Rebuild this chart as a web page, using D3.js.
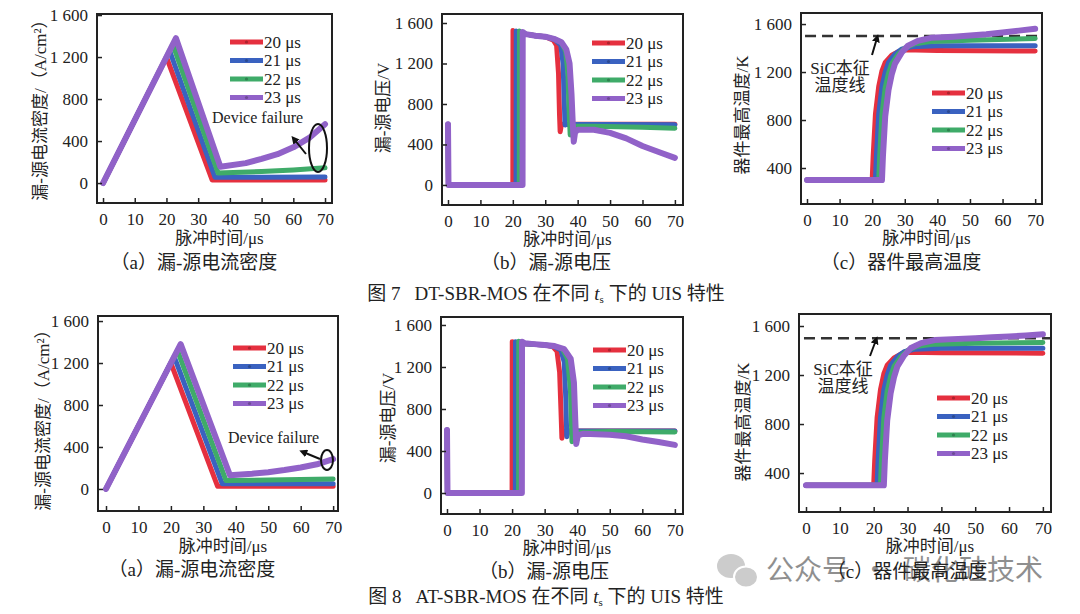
<!DOCTYPE html>
<html>
  <head>
    <meta charset="utf-8" />
    <title>DT/AT-SBR-MOS UIS curves</title>
    <script src="https://cdn.jsdelivr.net/npm/d3@7"></script>
    <style>
      body { margin: 0; background: #fff; }
      svg text { font-family: "Liberation Serif", "Times New Roman", "Noto Sans CJK SC", serif; fill: #222; }
    </style>
  </head>
  <body>
    <svg id="svg" width="1080" height="614" xmlns="http://www.w3.org/2000/svg"></svg>
    <script>
      // ---- data ----
      const xTicks = [0, 10, 20, 30, 40, 50, 60, 70];
      const yTicksIV = [0, 400, 800, 1200, 1600];
      const yTicksT = [400, 800, 1200, 1600];
      const seriesNames = ["20 μs", "21 μs", "22 μs", "23 μs"];
      const seriesColors = ["#e5303f", "#3a62c0", "#3fab69", "#9162c8"];
      const sicLimit = 1500;

      // Fig 7 (DT-SBR-MOS): drain-source current density, A/cm2
      const fig7J20 = [[0,0],[20,1200],[34.4,30],[50,30],[70,30]];
      const fig7J21 = [[0,0],[21,1260],[35.3,55],[50,55],[70,58]];
      const fig7J22 = [[0,0],[22,1320],[36.3,95],[50,110],[60,125],[70,145]];
      const fig7J23 = [[0,0],[23,1380],[37,155],[45,190],[50,230],[55,275],[60,340],[65,430],[70,560]];

      // Fig 7: drain-source voltage, V
      const fig7V20 = [[0,600],[0.15,0],[20,0],[20.05,1525],[21,1500],[24,1490],[27,1475],[30,1465],[32.5,1430],[33.5,1380],[34.1,1100],[34.4,700],[34.6,526],[35,600],[50,600],[70,600]];
      const fig7V21 = [[0,600],[0.15,0],[21,0],[21.05,1520],[22,1500],[24,1490],[27,1475],[30,1465],[33,1435],[34.8,1380],[35.5,1200],[35.9,800],[36.1,592],[36.5,600],[50,598],[70,595]];
      const fig7V22 = [[0,600],[0.15,0],[22,0],[22.05,1520],[23,1495],[27,1475],[30,1465],[33,1440],[35,1405],[36.3,1320],[37,1100],[37.4,700],[37.7,494],[38.1,580],[45,580],[60,570],[70,560]];
      const fig7V23 = [[0,600],[0.15,0],[23,0],[23.05,1510],[24,1490],[27,1475],[30,1465],[33,1440],[35,1410],[36.5,1340],[37.5,1200],[38.1,900],[38.5,600],[38.8,428],[39.2,520],[40,545],[45,545],[50,515],[55,460],[60,385],[65,325],[70,268]];

      // Fig 7: device peak temperature, K
      const fig7T20 = [[0,300],[20,300],[20.3,500],[21,850],[22,1080],[23,1210],[24,1280],[26,1340],[28,1370],[30,1385],[40,1380],[70,1375]];
      const fig7T21 = [[0,300],[21,300],[21.3,500],[22,850],[23,1080],[24,1200],[25,1280],[27,1350],[29,1390],[32,1410],[40,1420],[70,1420]];
      const fig7T22 = [[0,300],[22,300],[22.3,500],[23,850],[24,1070],[25,1190],[26,1270],[28,1350],[30,1400],[33,1435],[38,1455],[50,1465],[70,1480]];
      const fig7T23 = [[0,300],[23,300],[23.3,500],[24,830],[25,1050],[26,1180],[27,1270],[29,1360],[31,1420],[34,1460],[38,1485],[45,1495],[50,1505],[55,1515],[60,1530],[65,1545],[70,1560]];

      // Fig 8 (AT-SBR-MOS): current density
      const fig8J20 = [[0,0],[20,1200],[34.4,25],[50,25],[70,25]];
      const fig8J21 = [[0,0],[21,1260],[35.8,50],[50,50],[70,50]];
      const fig8J22 = [[0,0],[22,1320],[37,80],[50,85],[70,95]];
      const fig8J23 = [[0,0],[23,1380],[38.2,130],[45,145],[50,160],[55,180],[60,205],[65,235],[70,285]];

      // Fig 8: voltage
      const fig8V20 = [[0,600],[0.15,0],[20,0],[20.05,1440],[21,1425],[25,1420],[30,1410],[32.5,1395],[33.8,1350],[34.6,1150],[35,800],[35.3,521],[35.7,590],[50,590],[70,590]];
      const fig8V21 = [[0,600],[0.15,0],[21,0],[21.05,1440],[22,1425],[25,1420],[30,1410],[33,1395],[35,1360],[36,1250],[36.5,900],[36.8,536],[37.2,590],[50,590],[70,590]];
      const fig8V22 = [[0,600],[0.15,0],[22,0],[22.05,1445],[23,1425],[25,1420],[30,1410],[33,1400],[35.5,1370],[37,1280],[37.9,1000],[38.2,700],[38.4,489],[38.8,575],[50,585],[70,580]];
      const fig8V23 = [[0,600],[0.15,0],[23,0],[23.05,1440],[24,1425],[26,1420],[30,1410],[33,1400],[36,1370],[38,1280],[39,1050],[39.4,700],[39.7,467],[40.2,550],[42,565],[50,555],[55,540],[60,510],[65,485],[70,458]];

      // Fig 8: temperature
      const fig8T20 = [[0,300],[20,300],[20.3,500],[21,850],[22,1080],[23,1210],[24,1280],[26,1340],[28,1370],[30,1385],[40,1382],[70,1378]];
      const fig8T21 = [[0,300],[21,300],[21.3,500],[22,850],[23,1080],[24,1200],[25,1280],[27,1350],[29,1390],[32,1410],[40,1418],[70,1418]];
      const fig8T22 = [[0,300],[22,300],[22.3,500],[23,850],[24,1070],[25,1190],[26,1270],[28,1350],[30,1400],[33,1435],[38,1452],[50,1460],[70,1465]];
      const fig8T23 = [[0,300],[23,300],[23.3,500],[24,830],[25,1050],[26,1180],[27,1270],[29,1360],[31,1420],[34,1460],[38,1485],[45,1495],[50,1500],[55,1508],[60,1515],[65,1522],[70,1532]];

      // ---- layout of the six panels ----
      const panels = [
        { box: [97, 14, 332, 203], xDom: [-1.9, 72.2], yDom: [-190, 1610], yTicks: yTicksIV,
          series: [fig7J20, fig7J21, fig7J22, fig7J23], yTitle: "漏-源电流密度/（A/cm²）", yTitlePos: [40, 106],
          xTitleY: 244, legend: [230, 42], failure: { text: [212, 123], ell: [318, 148, 9, 24], arrow: [306, 154, 294, 139] } },
        { box: [442, 14, 683, 205], xDom: [-1.85, 72.5], yDom: [-198, 1689], yTicks: yTicksIV,
          series: [fig7V20, fig7V21, fig7V22, fig7V23], yTitle: "漏-源电压/V", yTitlePos: [383, 108],
          xTitleY: 245, legend: [592, 43] },
        { box: [801, 13, 1042, 204], xDom: [-1.84, 72.1], yDom: [100, 1692], yTicks: yTicksT,
          series: [fig7T20, fig7T21, fig7T22, fig7T23], yTitle: "器件最高温度/K", yTitlePos: [742, 115],
          xTitleY: 244, legend: [932, 93], sic: { text: [840, 74], arrow: [872, 55, 877, 38] } },
        { box: [98, 316, 338, 511], xDom: [-2.47, 71.5], yDom: [-210, 1648], yTicks: yTicksIV,
          series: [fig8J20, fig8J21, fig8J22, fig8J23], yTitle: "漏-源电流密度/（A/cm²）", yTitlePos: [43, 416],
          xTitleY: 552, legend: [233, 348], failure: { text: [228, 443], ell: [327, 460, 6, 10], arrow: [320, 459, 303, 452] } },
        { box: [441, 317, 683, 514], xDom: [-1.84, 72.5], yDom: [-200, 1676], yTicks: yTicksIV,
          series: [fig8V20, fig8V21, fig8V22, fig8V23], yTitle: "漏-源电压/V", yTitlePos: [388, 418],
          xTitleY: 554, legend: [593, 350] },
        { box: [799, 314, 1051, 512], xDom: [-2.07, 72.4], yDom: [82, 1698], yTicks: yTicksT,
          series: [fig8T20, fig8T21, fig8T22, fig8T23], yTitle: "器件最高温度/K", yTitlePos: [743, 422],
          xTitleY: 552, legend: [937, 398], sic: { text: [843, 375], arrow: [870, 356, 876, 340] } }
      ];

      const captions = [
        { text: "（a）漏-源电流密度", x: 194, y: 269 },
        { text: "（b）漏-源电压", x: 546, y: 269 },
        { text: "（c）器件最高温度", x: 901, y: 269 },
        { text: "（a）漏-源电流密度", x: 192, y: 576 },
        { text: "（b）漏-源电压", x: 544, y: 578 },
        { text: "（c）器件最高温度", x: 907, y: 578 }
      ];
      const figTitles = [
        { num: "图 7", dev: "DT-SBR-MOS", y: 300 },
        { num: "图 8", dev: "AT-SBR-MOS", y: 603 }
      ];

      let svg = d3.select("svg");

      svg.append("defs").append("marker")
        .attr("id", "arrow")
        .attr("viewBox", "0 0 10 10")
        .attr("refX", 5).attr("refY", 5)
        .attr("markerWidth", 4).attr("markerHeight", 4)
        .attr("orient", "auto")
        .append("path")
        .attr("d", "M0,0L10,5L0,10z")
        .attr("fill", "#111");

      // Formats 1600 as "1 600" like the paper
      function fmtTick(v) {
        return v >= 1000 ? Math.floor(v / 1000) + " " + String(v % 1000).padStart(3, "0") : String(v);
      }

      panels.forEach((p, i) => draw(p, i));

      function draw(p, i) {
        let [x0, y0, x1, y1] = p.box;
        let x = d3.scaleLinear().domain(p.xDom).range([x0, x1]);
        let y = d3.scaleLinear().domain(p.yDom).range([y1, y0]);
        let g = svg.append("g");

        g.append("clipPath").attr("id", "clip" + i)
          .append("rect").attr("x", x0).attr("y", y0).attr("width", x1 - x0).attr("height", y1 - y0);

        // SiC intrinsic temperature line
        if (p.sic) {
          g.append("line")
            .attr("x1", x(-0.6)).attr("x2", x1)
            .attr("y1", y(sicLimit)).attr("y2", y(sicLimit))
            .attr("stroke", "#333").attr("stroke-width", 2.5)
            .attr("stroke-dasharray", "11,6");
        }

        // Curves
        let line = d3.line().x((d) => x(d[0])).y((d) => y(d[1]));
        let plot = g.append("g").attr("clip-path", "url(#clip" + i + ")");
        p.series.forEach((s, k) => {
          plot.append("path")
            .attr("d", line(s))
            .attr("fill", "none")
            .attr("stroke", seriesColors[k])
            .attr("stroke-width", k === 3 ? 6 : 5)
            .attr("stroke-linejoin", "round")
            .attr("stroke-linecap", "round");
        });

        // Axes with inward ticks
        let xAxis = d3.axisBottom(x).tickValues(xTicks).tickSizeInner(-5).tickSizeOuter(0).tickPadding(10).tickFormat((d) => d);
        let yAxis = d3.axisLeft(y).tickValues(p.yTicks).tickSizeInner(-5).tickSizeOuter(0).tickPadding(9).tickFormat(fmtTick);
        let gx = g.append("g").attr("transform", "translate(0," + y1 + ")").call(xAxis);
        let gy = g.append("g").attr("transform", "translate(" + x0 + ",0)").call(yAxis);
        [gx, gy].forEach((a) => {
          a.attr("font-family", "Liberation Serif").attr("font-size", 17);
          a.select(".domain").remove();
          a.selectAll("line").attr("stroke", "#222").attr("stroke-width", 1.5);
          a.selectAll("text").attr("fill", "#222");
        });

        // Frame
        g.append("rect")
          .attr("x", x0).attr("y", y0).attr("width", x1 - x0).attr("height", y1 - y0)
          .attr("fill", "none").attr("stroke", "#222").attr("stroke-width", 2);

        // Axis titles
        g.append("text")
          .attr("x", (x0 + x1) / 2 + 5).attr("y", p.xTitleY)
          .attr("text-anchor", "middle").attr("font-size", 17)
          .text("脉冲时间/μs");
        g.append("text")
          .attr("transform", "translate(" + p.yTitlePos[0] + "," + p.yTitlePos[1] + ") rotate(-90)")
          .attr("text-anchor", "middle").attr("dominant-baseline", "central")
          .attr("font-size", 17)
          .text(p.yTitle);

        // Legend
        let lg = g.append("g").attr("transform", "translate(" + p.legend[0] + "," + p.legend[1] + ")");
        seriesNames.forEach((name, k) => {
          let row = lg.append("g").attr("transform", "translate(0," + k * 18.5 + ")");
          row.append("line").attr("x1", 0).attr("x2", 33).attr("y1", 0).attr("y2", 0)
            .attr("stroke", seriesColors[k]).attr("stroke-width", 5);
          row.append("circle").attr("cx", 16.5).attr("cy", 0).attr("r", 1.6)
            .attr("fill", d3.color(seriesColors[k]).darker(0.8));
          row.append("text").attr("x", 34).attr("y", 0).attr("dy", "0.35em")
            .attr("font-size", 17).text(name);
        });

        // Device failure note
        if (p.failure) {
          let f = p.failure;
          g.append("text").attr("x", f.text[0]).attr("y", f.text[1])
            .attr("font-size", 16).text("Device failure");
          g.append("ellipse")
            .attr("cx", f.ell[0]).attr("cy", f.ell[1]).attr("rx", f.ell[2]).attr("ry", f.ell[3])
            .attr("fill", "none").attr("stroke", "#111").attr("stroke-width", 2);
          g.append("line")
            .attr("x1", f.arrow[0]).attr("y1", f.arrow[1]).attr("x2", f.arrow[2]).attr("y2", f.arrow[3])
            .attr("stroke", "#111").attr("stroke-width", 2).attr("marker-end", "url(#arrow)");
        }

        // SiC note
        if (p.sic) {
          let s = p.sic;
          g.append("text").attr("x", s.text[0]).attr("y", s.text[1])
            .attr("text-anchor", "middle").attr("font-size", 17).text("SiC本征");
          g.append("text").attr("x", s.text[0]).attr("y", s.text[1] + 17)
            .attr("text-anchor", "middle").attr("font-size", 17).text("温度线");
          g.append("line")
            .attr("x1", s.arrow[0]).attr("y1", s.arrow[1]).attr("x2", s.arrow[2]).attr("y2", s.arrow[3])
            .attr("stroke", "#111").attr("stroke-width", 2).attr("marker-end", "url(#arrow)");
        }
      }

      // Sub-captions
      captions.forEach((c) => {
        svg.append("text").attr("x", c.x).attr("y", c.y)
          .attr("text-anchor", "middle").attr("font-size", 19).text(c.text);
      });

      // Figure titles
      figTitles.forEach((f) => {
        let t = svg.append("text").attr("x", 546).attr("y", f.y)
          .attr("text-anchor", "middle").attr("font-size", 19);
        t.append("tspan").text(f.num);
        t.append("tspan").attr("dx", 14).text(f.dev + " 在不同 ");
        t.append("tspan").attr("font-style", "italic").text("t");
        t.append("tspan").attr("font-size", 11).attr("dy", 3).text("s");
        t.append("tspan").attr("dy", -3).text(" 下的 UIS 特性");
      });

      // Watermark
      let wm = svg.append("g").attr("opacity", 0.5);
      wm.append("ellipse").attr("cx", 731).attr("cy", 566).attr("rx", 14).attr("ry", 12).attr("fill", "#9a9a9a");
      wm.append("ellipse").attr("cx", 746).attr("cy", 577).attr("rx", 12).attr("ry", 10.5).attr("fill", "#9a9a9a")
        .attr("stroke", "#fff").attr("stroke-width", 2);
      let wmText = wm.append("g")
        .style("font-family", "'Noto Sans CJK SC', sans-serif").attr("font-size", 28).attr("fill", "#8a8a8a");
      wmText.append("text").attr("x", 766).attr("y", 580).style("font-family", "'Noto Sans CJK SC', sans-serif").text("公众号");
      wmText.append("text").attr("x", 875).attr("y", 580).attr("text-anchor", "middle").style("font-family", "'Noto Sans CJK SC', sans-serif").text("·");
      wmText.append("text").attr("x", 903).attr("y", 580).style("font-family", "'Noto Sans CJK SC', sans-serif").text("碳化硅技术");
    </script>
  </body>
</html>
